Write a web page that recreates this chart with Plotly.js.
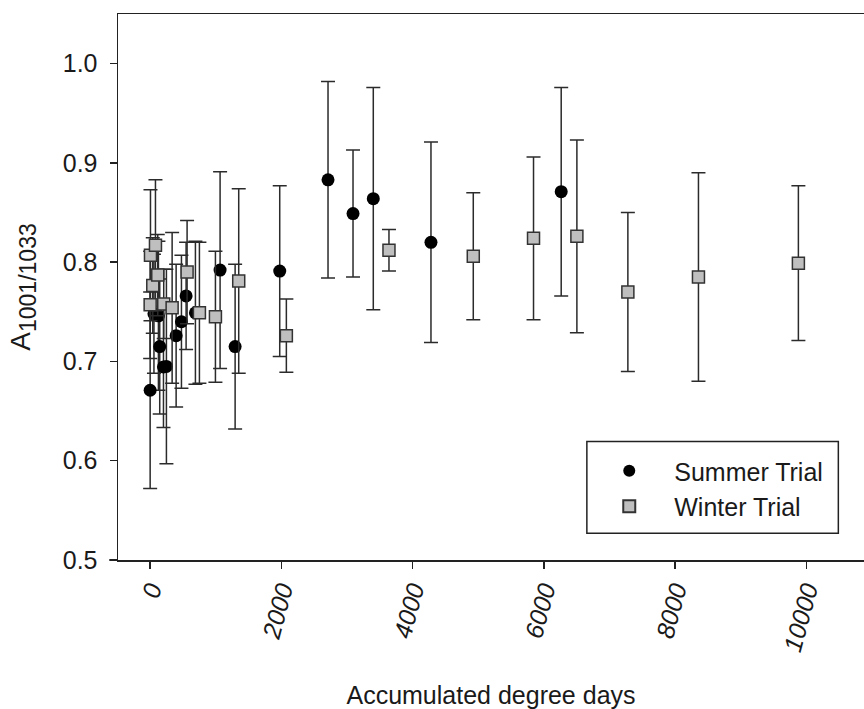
<!DOCTYPE html>
<html>
<head>
<meta charset="utf-8">
<script src="https://cdn.plot.ly/plotly-3.0.1.min.js"></script>
<style>
  html, body { margin: 0; padding: 0; background: #fff; }
  #chart { width: 864px; height: 709px; }
</style>
</head>
<body>
<div id="chart"></div>
<script>
// Summer trial: accumulated degree days, mean A1001/1033 ratio and its SD
const summerDays = [0, 58, 126, 146, 203, 248, 396, 477, 548, 690, 1066, 1295, 1975, 2711, 3092, 3401, 4280, 6265];
const summerA    = [0.671, 0.748, 0.746, 0.715, 0.6945, 0.695, 0.726, 0.740, 0.766, 0.749, 0.792, 0.715, 0.791, 0.883, 0.849, 0.864, 0.820, 0.871];
const summerSD   = [0.099, 0.060, 0.075, 0.068, 0.061, 0.098, 0.072, 0.067, 0.054, 0.072, 0.099, 0.083, 0.086, 0.099, 0.064, 0.112, 0.101, 0.105];

// Winter trial
const winterDays = [0, 5, 40, 81, 116, 207, 335, 563, 751, 995, 1350, 2076, 3640, 4925, 5843, 6504, 7281, 8357, 9880];
const winterA    = [0.757, 0.807, 0.7765, 0.817, 0.787, 0.758, 0.754, 0.790, 0.749, 0.745, 0.781, 0.726, 0.812, 0.806, 0.824, 0.826, 0.770, 0.785, 0.799];
const winterSD   = [0.054, 0.066, 0.048, 0.066, 0.041, 0.035, 0.076, 0.052, 0.071, 0.066, 0.093, 0.037, 0.021, 0.064, 0.082, 0.097, 0.080, 0.105, 0.078];

// Axis ticks
const xTicks = [0, 2000, 4000, 6000, 8000, 10000];
const yTicks = [0.5, 0.6, 0.7, 0.8, 0.9, 1.0];

const FONT = 'Liberation Sans, Arial, Helvetica, sans-serif';
const INK = '#1a1a1a';

function errBars(sd) {
  return { type: 'data', array: sd, visible: true, color: '#2b2b2b', thickness: 1.5, width: 7 };
}

const traces = [
  {
    type: 'scatter', mode: 'markers', name: 'Summer Trial',
    x: summerDays, y: summerA, error_y: errBars(summerSD),
    marker: { symbol: 'circle', size: 13, color: '#000', line: { width: 0 } }
  },
  {
    type: 'scatter', mode: 'markers', name: 'Winter Trial',
    x: winterDays, y: winterA, error_y: errBars(winterSD),
    marker: { symbol: 'square', size: 12, color: '#bfbfbf', line: { width: 1.5, color: '#333' } }
  }
];

const layout = {
  width: 864, height: 709,
  margin: { l: 118, r: 0, t: 14, b: 149 },
  paper_bgcolor: '#fff', plot_bgcolor: '#fff',
  font: { family: FONT, color: INK, size: 25 },
  showlegend: true,
  legend: {
    x: 0.625, y: 0.205, xanchor: 'left', yanchor: 'top',
    bgcolor: 'rgba(0,0,0,0)', borderwidth: 0,
    itemwidth: 80, itemsizing: 'constant',
    font: { family: FONT, size: 25, color: INK }
  },
  xaxis: {
    range: [-490, 10880],
    tickmode: 'array', tickvals: xTicks, ticktext: xTicks.map(String),
    tickangle: -75,
    tickfont: { family: FONT, size: 25, color: INK, style: 'italic' },
    ticks: 'outside', ticklen: 7, tickwidth: 1.5, tickcolor: '#222',
    ticklabelstandoff: -3,
    showline: true, linecolor: '#222', linewidth: 1.5, mirror: true,
    showgrid: false, zeroline: false, automargin: false,
    title: { text: 'Accumulated degree days', font: { family: FONT, size: 25, color: INK }, standoff: 37 }
  },
  yaxis: {
    range: [0.5, 1.05],
    tickmode: 'array', tickvals: yTicks, ticktext: yTicks.map(v => v.toFixed(1)),
    tickfont: { family: FONT, size: 25, color: INK },
    ticks: 'outside', ticklen: 7, tickwidth: 1.5, tickcolor: '#222',
    ticklabelstandoff: 7,
    showline: true, linecolor: '#222', linewidth: 1.5, mirror: false,
    showgrid: false, zeroline: false, automargin: false,
    title: {
      text: 'A<sub><span style="font-size:23px">1001/1033</span></sub>',
      font: { family: FONT, size: 28, color: INK }, standoff: 24
    }
  },
  shapes: [
    // legend frame
    { type: 'rect', xref: 'paper', yref: 'paper', x0: 0.6285, x1: 0.9656, y0: 0.0489, y1: 0.2169,
      line: { color: '#222', width: 1.5 }, fillcolor: '#fff', layer: 'above' },
    // short run of the x axis line to the left of the y axis
    { type: 'line', xref: 'paper', yref: 'paper', x0: -0.012, x1: 0, y0: 0, y1: 0,
      line: { color: '#222', width: 1.5 } }
  ]
};

Plotly.newPlot('chart', traces, layout, { displayModeBar: false, staticPlot: true });
</script>
</body>
</html>
